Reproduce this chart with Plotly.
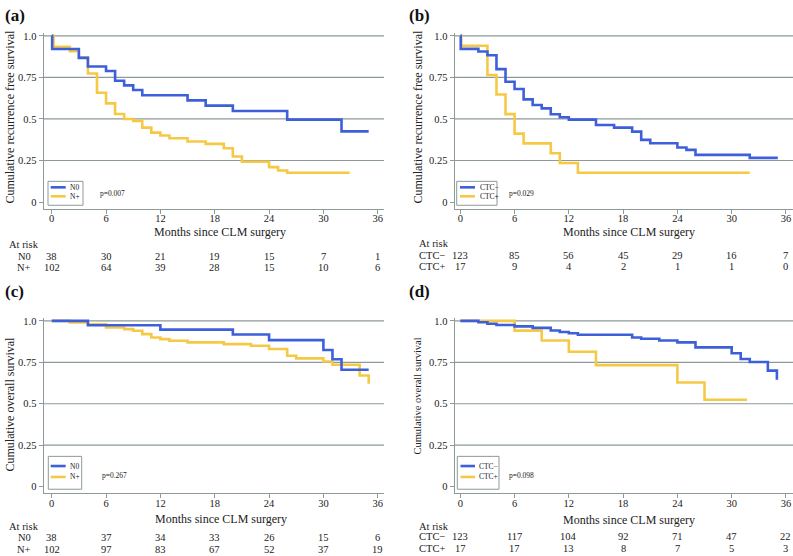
import plotly.graph_objects as go

W, H = 793, 556
FONT = "Liberation Serif"
BLUE = "#3D5FDA"
YELLOW = "#F6C945"
GRID = "#8E9A9A"
TXT = "#222222"

# ---------------- data ----------------
x_ticks = [0, 6, 12, 18, 24, 30, 36]
y_ticks = [0, 0.25, 0.5, 0.75, 1.0]
y_ticktext = ["0", "0.25", "0.5", "0.75", "1.0"]
grid_vals = [0.25, 0.5, 0.75, 1.0]

# (a) recurrence free survival by nodal status
a_n0_t = [0.05, 3, 4, 6, 7, 8, 9, 10, 15, 17, 20, 26, 32]
a_n0_s = [0.921, 0.868, 0.816, 0.789, 0.73, 0.702, 0.674, 0.643, 0.612, 0.58, 0.548, 0.496, 0.425]
a_n0_end = 35.0
a_np_t = [0.2, 2, 3, 4, 5, 6, 7, 8, 9, 10, 11, 12, 13, 15, 17, 19, 20, 21, 24, 25, 26]
a_np_s = [0.934, 0.908, 0.87, 0.774, 0.658, 0.594, 0.53, 0.5, 0.488, 0.448, 0.418, 0.40, 0.384,
          0.364, 0.35, 0.324, 0.274, 0.242, 0.21, 0.19, 0.176]
a_np_end = 32.9

# (b) recurrence free survival by CTC status
b_neg_t = [0.05, 2, 3, 4, 5, 6, 7, 8, 9, 10, 11, 12, 15, 17, 19, 20, 21, 24, 25, 26, 32]
b_neg_s = [0.922, 0.906, 0.884, 0.8, 0.724, 0.68, 0.618, 0.584, 0.564, 0.528, 0.51, 0.496,
           0.464, 0.448, 0.424, 0.374, 0.354, 0.328, 0.314, 0.284, 0.266]
b_neg_end = 35.1
b_pos_t = [0.1, 3, 4, 5, 6, 7, 10, 11, 13]
b_pos_s = [0.941, 0.765, 0.647, 0.529, 0.412, 0.353, 0.294, 0.235, 0.176]
b_pos_end = 32.0

# (c) overall survival by nodal status
c_n0_t = [4, 12, 20, 24, 30, 31, 32]
c_n0_s = [0.974, 0.947, 0.918, 0.884, 0.824, 0.768, 0.705]
c_n0_end = 35.0
c_np_t = [2, 4, 6, 8, 9, 10, 11, 12, 13, 15, 19, 22, 24, 26, 27, 30, 31, 34, 35]
c_np_s = [0.99, 0.98, 0.96, 0.95, 0.94, 0.92, 0.90, 0.89, 0.88, 0.87, 0.86, 0.85, 0.83,
          0.79, 0.774, 0.755, 0.735, 0.67, 0.62]
c_np_end = 35.0

# (d) overall survival by CTC status
d_neg_t = [2, 3, 4, 6, 8, 10, 11, 12, 13, 19, 20, 22, 24, 26, 30, 31, 32, 34, 35]
d_neg_s = [0.992, 0.983, 0.975, 0.967, 0.958, 0.942, 0.933, 0.925, 0.916, 0.9, 0.892, 0.882,
           0.87, 0.84, 0.805, 0.77, 0.752, 0.70, 0.645]
d_neg_end = 35.0
d_pos_t = [6, 9, 12, 15, 24, 27]
d_pos_s = [0.941, 0.882, 0.814, 0.733, 0.628, 0.524]
d_pos_end = 31.7

# numbers at risk
a_risk_n0 = [38, 30, 21, 19, 15, 7, 1]
a_risk_np = [102, 64, 39, 28, 15, 10, 6]
b_risk_neg = [123, 85, 56, 45, 29, 16, 7]
b_risk_pos = [17, 9, 4, 2, 1, 1, 0]
c_risk_n0 = [38, 37, 34, 33, 26, 15, 6]
c_risk_np = [102, 97, 83, 67, 52, 37, 19]
d_risk_neg = [123, 117, 104, 92, 71, 47, 22]
d_risk_pos = [17, 17, 13, 8, 7, 5, 3]

p_values = ["p=0.007", "p=0.029", "p=0.267", "p=0.098"]
panel_labels = ["(a)", "(b)", "(c)", "(d)"]
y_titles = ["Cumulative recurrence free survival", "Cumulative recurrence free survival",
            "Cumulative overall survival", "Cumulative overall survival"]
x_title = "Months since CLM surgery"
group_names = [("N0", "N+"), ("CTC−", "CTC+"), ("N0", "N+"), ("CTC−", "CTC+")]

# ---------------- layout helpers ----------------
def px(x):
    return x / W

def py(y):
    return 1 - y / H

panels = [
    dict(xd=(43.5, 384), xr=(-0.905, 36.69), yd=(30.7, 207.4), yr=(-0.04, 1.02)),
    dict(xd=(454.5, 793), xr=(-0.64, 36.78), yd=(30.7, 207.4), yr=(-0.04, 1.02)),
    dict(xd=(43.5, 384), xr=(-0.905, 36.69), yd=(316.7, 493.0), yr=(-0.04, 1.02)),
    dict(xd=(454.5, 793), xr=(-0.64, 36.78), yd=(316.7, 493.0), yr=(-0.04, 1.02)),
]

curves = [
    [(a_np_t, a_np_s, a_np_end, YELLOW), (a_n0_t, a_n0_s, a_n0_end, BLUE)],
    [(b_pos_t, b_pos_s, b_pos_end, YELLOW), (b_neg_t, b_neg_s, b_neg_end, BLUE)],
    [(c_np_t, c_np_s, c_np_end, YELLOW), (c_n0_t, c_n0_s, c_n0_end, BLUE)],
    [(d_pos_t, d_pos_s, d_pos_end, YELLOW), (d_neg_t, d_neg_s, d_neg_end, BLUE)],
]

risks = [(a_risk_n0, a_risk_np), (b_risk_neg, b_risk_pos),
         (c_risk_n0, c_risk_np), (d_risk_neg, d_risk_pos)]

fig = go.Figure()
layout = dict(
    width=W, height=H, margin=dict(l=0, r=0, t=0, b=0),
    paper_bgcolor="white", plot_bgcolor="white", showlegend=False,
    font=dict(family=FONT, color=TXT),
)
shapes = []
annotations = []

# text placement per panel (pixels)
txt = [
    dict(lab=(3, 14), ytx=10, yty=115, ytfs=12, xtx=220, xty=231,
         ar=(7, 243), rows=(255.5, 266.8), rowx=33, rowalign="right",
         leg=(48, 180, 83, 204), l1=186, l2=195, lx=(50.7, 65.7), ltx=68, pv=(98, 192)),
    dict(lab=(407, 14), ytx=418, yty=115, ytfs=12, xtx=629, xty=231,
         ar=(417, 242.7), rows=(254.3, 265.7), rowx=417, rowalign="left",
         leg=(456.7, 180, 497, 204), l1=186, l2=195, lx=(460, 475), ltx=477.7, pv=(507, 192)),
    dict(lab=(3, 291), ytx=10, yty=404, ytfs=12, xtx=221, xty=519.3,
         ar=(7, 526), rows=(537.7, 549), rowx=33, rowalign="right",
         leg=(48.3, 456, 81.7, 489), l1=465.7, l2=476.7, lx=(50.7, 65.7), ltx=68, pv=(100, 475)),
    dict(lab=(407, 291), ytx=418, yty=396, ytfs=10.5, xtx=629, xty=520,
         ar=(417, 526), rows=(536.7, 548.3), rowx=417, rowalign="left",
         leg=(457.3, 456, 499, 489), l1=465.7, l2=476.7, lx=(460.5, 475), ltx=477, pv=(507, 475)),
]

for i, (p, cs, rk, t) in enumerate(zip(panels, curves, risks, txt)):
    n = "" if i == 0 else str(i + 1)
    xa, ya = "x" + n, "y" + n
    for (tt, ss, end, col) in cs:
        xs = [0] + list(tt) + [end]
        ys = [1.0] + list(ss) + [ss[-1]]
        fig.add_trace(go.Scatter(x=xs, y=ys, mode="lines", line=dict(color=col, width=2.6, shape="hv"),
                                 xaxis=xa, yaxis=ya, hoverinfo="skip"))
    axcommon = dict(showgrid=False, zeroline=False, showline=True, linecolor=GRID, linewidth=1,
                    ticks="outside", ticklen=4, tickcolor=GRID, tickwidth=1,
                    tickfont=dict(family=FONT, size=10.5, color=TXT))
    layout["xaxis" + n] = dict(domain=[px(p["xd"][0]), px(p["xd"][1])], range=list(p["xr"]),
                               anchor=ya, tickvals=x_ticks, ticklabelstandoff=-4, **axcommon)
    layout["yaxis" + n] = dict(domain=[py(p["yd"][1]), py(p["yd"][0])], range=list(p["yr"]),
                               anchor=xa, tickvals=y_ticks, ticktext=y_ticktext, **axcommon)
    for g in grid_vals:
        shapes.append(dict(type="line", xref=xa + " domain", yref=ya, x0=0, x1=1, y0=g, y1=g,
                           line=dict(color=GRID, width=1.2), layer="below"))
    # panel label
    annotations.append(dict(text="<b>" + panel_labels[i] + "</b>", x=px(t["lab"][0]), y=py(t["lab"][1]),
                            xref="paper", yref="paper", xanchor="left", yanchor="middle",
                            showarrow=False, font=dict(family=FONT, size=17, color="#111")))
    # y title
    annotations.append(dict(text=y_titles[i], x=px(t["ytx"]), y=py(t["yty"]), xref="paper", yref="paper",
                            xanchor="center", yanchor="middle", textangle=-90, showarrow=False,
                            font=dict(family=FONT, size=t["ytfs"], color=TXT)))
    # x title
    annotations.append(dict(text=x_title, x=px(t["xtx"]), y=py(t["xty"]), xref="paper", yref="paper",
                            xanchor="center", yanchor="middle", showarrow=False,
                            font=dict(family=FONT, size=12, color=TXT)))
    # at risk table
    annotations.append(dict(text="At risk", x=px(t["ar"][0]), y=py(t["ar"][1]), xref="paper", yref="paper",
                            xanchor="left", yanchor="middle", showarrow=False,
                            font=dict(family=FONT, size=10.5, color=TXT)))
    for gname, row, ry in zip(group_names[i], rk, t["rows"]):
        annotations.append(dict(text=gname, x=px(t["rowx"]), y=py(ry), xref="paper", yref="paper",
                                xanchor=t["rowalign"], yanchor="middle", showarrow=False,
                                font=dict(family=FONT, size=10.5, color=TXT)))
        for xv, v in zip(x_ticks, row):
            annotations.append(dict(text=str(v), x=xv, y=py(ry), xref=xa, yref="paper",
                                    xanchor="center", yanchor="middle", showarrow=False,
                                    font=dict(family=FONT, size=10.5, color=TXT)))
    # legend box
    lx0, ly0, lx1, ly1 = t["leg"]
    shapes.append(dict(type="rect", xref="paper", yref="paper", x0=px(lx0), x1=px(lx1), y0=py(ly1), y1=py(ly0),
                       line=dict(color=GRID, width=1), fillcolor="white"))
    for col, ly, gname in [(BLUE, t["l1"], group_names[i][0]), (YELLOW, t["l2"], group_names[i][1])]:
        shapes.append(dict(type="line", xref="paper", yref="paper", x0=px(t["lx"][0]), x1=px(t["lx"][1]),
                           y0=py(ly), y1=py(ly), line=dict(color=col, width=2.6)))
        annotations.append(dict(text=gname, x=px(t["ltx"]), y=py(ly), xref="paper", yref="paper",
                                xanchor="left", yanchor="middle", showarrow=False,
                                font=dict(family=FONT, size=7.5, color=TXT)))
    annotations.append(dict(text=p_values[i], x=px(t["pv"][0]), y=py(t["pv"][1]), xref="paper", yref="paper",
                            xanchor="left", yanchor="middle", showarrow=False,
                            font=dict(family=FONT, size=7.5, color=TXT)))

layout["shapes"] = shapes
layout["annotations"] = annotations
fig.update_layout(**layout)
fig.write_html("out.html", config={"displayModeBar": False},
               post_script="document.body.style.margin='0';document.body.style.padding='0';")
